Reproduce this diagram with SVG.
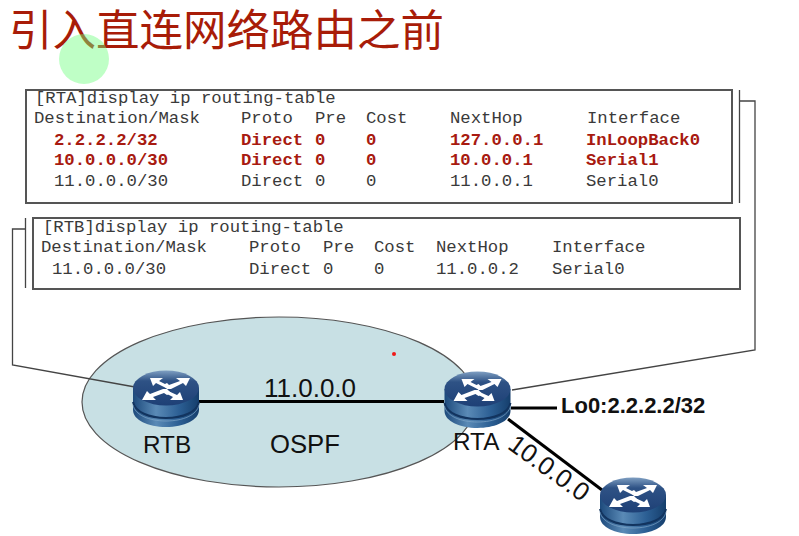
<svg xmlns="http://www.w3.org/2000/svg" width="799" height="536" viewBox="0 0 799 536">
<style>
.t{font-family:"Liberation Mono",monospace;font-size:17.3px;fill:#3a3a3a;white-space:pre}
.r{font-weight:bold;fill:#a81a10}
.box{fill:#fff;stroke:#555;stroke-width:2}
.thin{fill:none;stroke:#444;stroke-width:1.3}
.link{fill:none;stroke:#000;stroke-width:3}
.lab{font-family:"Liberation Sans",Arial,sans-serif;fill:#111}
</style>
<defs>
<linearGradient id="side" x1="0" x2="1" y1="0" y2="0">
<stop offset="0" stop-color="#1d4a7c"/><stop offset=".35" stop-color="#5a8ab6"/><stop offset=".7" stop-color="#2c5f94"/><stop offset="1" stop-color="#153e6c"/>
</linearGradient>
<linearGradient id="top" x1="0" x2="0" y1="0" y2="1">
<stop offset="0" stop-color="#7f9fc2"/><stop offset=".3" stop-color="#2e5285"/><stop offset="1" stop-color="#1e4076"/>
</linearGradient>
<g id="router">
<path d="M-33 0V22C-33 32-18 39 0 39S33 32 33 22V0Z" fill="url(#side)"/>
<path d="M-33 14C-31 24-17 30 0 30S31 24 33 14" fill="none" stroke="#12345f" stroke-width="2"/>
<path d="M-33 17C-31 27-17 33 0 33S31 27 33 17" fill="none" stroke="#7fa5c8" stroke-width="1" opacity=".7"/>
<ellipse cx="0" cy="0" rx="33" ry="17.500" fill="url(#top)"/>
<g fill="#fff" stroke="none">
<path d="M-16-10H-3L-7-7 3-2 0 0-10-5-13-2Z"/>
<path d="M24-10H10L14-7 3-3 1-5-3-3 1 1 5 1 17-5 20-2Z"/>
<path d="M-24 12H-10L-13 9-2 5 1 7 5 5 1 1-3 1-16 6-19 3Z"/>
<path d="M17 12H4L7 9-3 4 0 2 11 7 14 4Z"/>
</g>
</g>
</defs>
<rect width="799" height="536" fill="#fff"/>
<text id="title" x="9" y="46" font-family="'Noto Sans CJK SC',sans-serif" font-size="43.500" fill="#a81c08">引入直连网络路由之前</text>
<circle id="pointer" cx="84" cy="59" r="25" fill="#70ff80" opacity=".45"/>
<g id="rta-table">
<rect class="box" x="26" y="90" width="706" height="113"/>
<text class="t" x="35" y="103">[RTA]display ip routing-table</text>
<text class="t" x="34" y="123">Destination/Mask</text><text class="t" x="241" y="123">Proto</text><text class="t" x="315" y="123">Pre</text><text class="t" x="366" y="123">Cost</text><text class="t" x="450" y="123">NextHop</text><text class="t" x="587" y="123">Interface</text>
<text class="t r" x="54" y="145">2.2.2.2/32</text><text class="t r" x="241" y="145">Direct</text><text class="t r" x="315" y="145">0</text><text class="t r" x="366" y="145">0</text><text class="t r" x="450" y="145">127.0.0.1</text><text class="t r" x="586" y="145">InLoopBack0</text>
<text class="t r" x="54" y="165">10.0.0.0/30</text><text class="t r" x="241" y="165">Direct</text><text class="t r" x="315" y="165">0</text><text class="t r" x="366" y="165">0</text><text class="t r" x="450" y="165">10.0.0.1</text><text class="t r" x="586" y="165">Serial1</text>
<text class="t" x="54" y="186">11.0.0.0/30</text><text class="t" x="241" y="186">Direct</text><text class="t" x="315" y="186">0</text><text class="t" x="366" y="186">0</text><text class="t" x="450" y="186">11.0.0.1</text><text class="t" x="586" y="186">Serial0</text>
</g>
<g id="rtb-table">
<rect class="box" x="33" y="218" width="707" height="71"/>
<text class="t" x="43" y="232">[RTB]display ip routing-table</text>
<text class="t" x="41" y="252">Destination/Mask</text><text class="t" x="249" y="252">Proto</text><text class="t" x="323" y="252">Pre</text><text class="t" x="374" y="252">Cost</text><text class="t" x="436" y="252">NextHop</text><text class="t" x="552" y="252">Interface</text>
<text class="t" x="52" y="274">11.0.0.0/30</text><text class="t" x="249" y="274">Direct</text><text class="t" x="323" y="274">0</text><text class="t" x="374" y="274">0</text><text class="t" x="436" y="274">11.0.0.2</text><text class="t" x="552" y="274">Serial0</text>
</g>
<g id="ospf-area">
<ellipse cx="279" cy="402" rx="197" ry="85" fill="#c8e0e4" stroke="#555" stroke-width="1.2"/>
<text class="lab" x="270" y="453" font-size="25.700">OSPF</text>
<circle cx="394" cy="354" r="2" fill="#f01818"/>
</g>
<g id="connectors">
<path class="thin" d="M25.500 218V288M25.500 229H12.500V365L135 387"/>
<path class="thin" d="M739.500 90V203M740 101H755V350L512 390"/>
<path class="link" d="M199 401.500H444"/>
<path class="link" d="M511 408H557"/>
<path class="link" d="M508 419L602 490"/>
</g>
<text id="net-11" class="lab" x="264" y="397" font-size="26">11.0.0.0</text>
<text id="net-10" class="lab" x="544" y="475" text-anchor="middle" font-size="25.700" transform="rotate(36 544 475)">10.0.0.0</text>
<g id="rtb"><use href="#router" x="166" y="388"/><text class="lab" x="143" y="453" font-size="24.300">RTB</text></g>
<g id="rta"><use href="#router" x="477.500" y="389"/><text class="lab" x="453" y="450" font-size="24.300">RTA</text></g>
<g id="r3"><use href="#router" x="633" y="495"/></g>
<text id="lo0" class="lab" x="561" y="413" font-size="22" font-weight="bold">Lo0:2.2.2.2/32</text>
</svg>
